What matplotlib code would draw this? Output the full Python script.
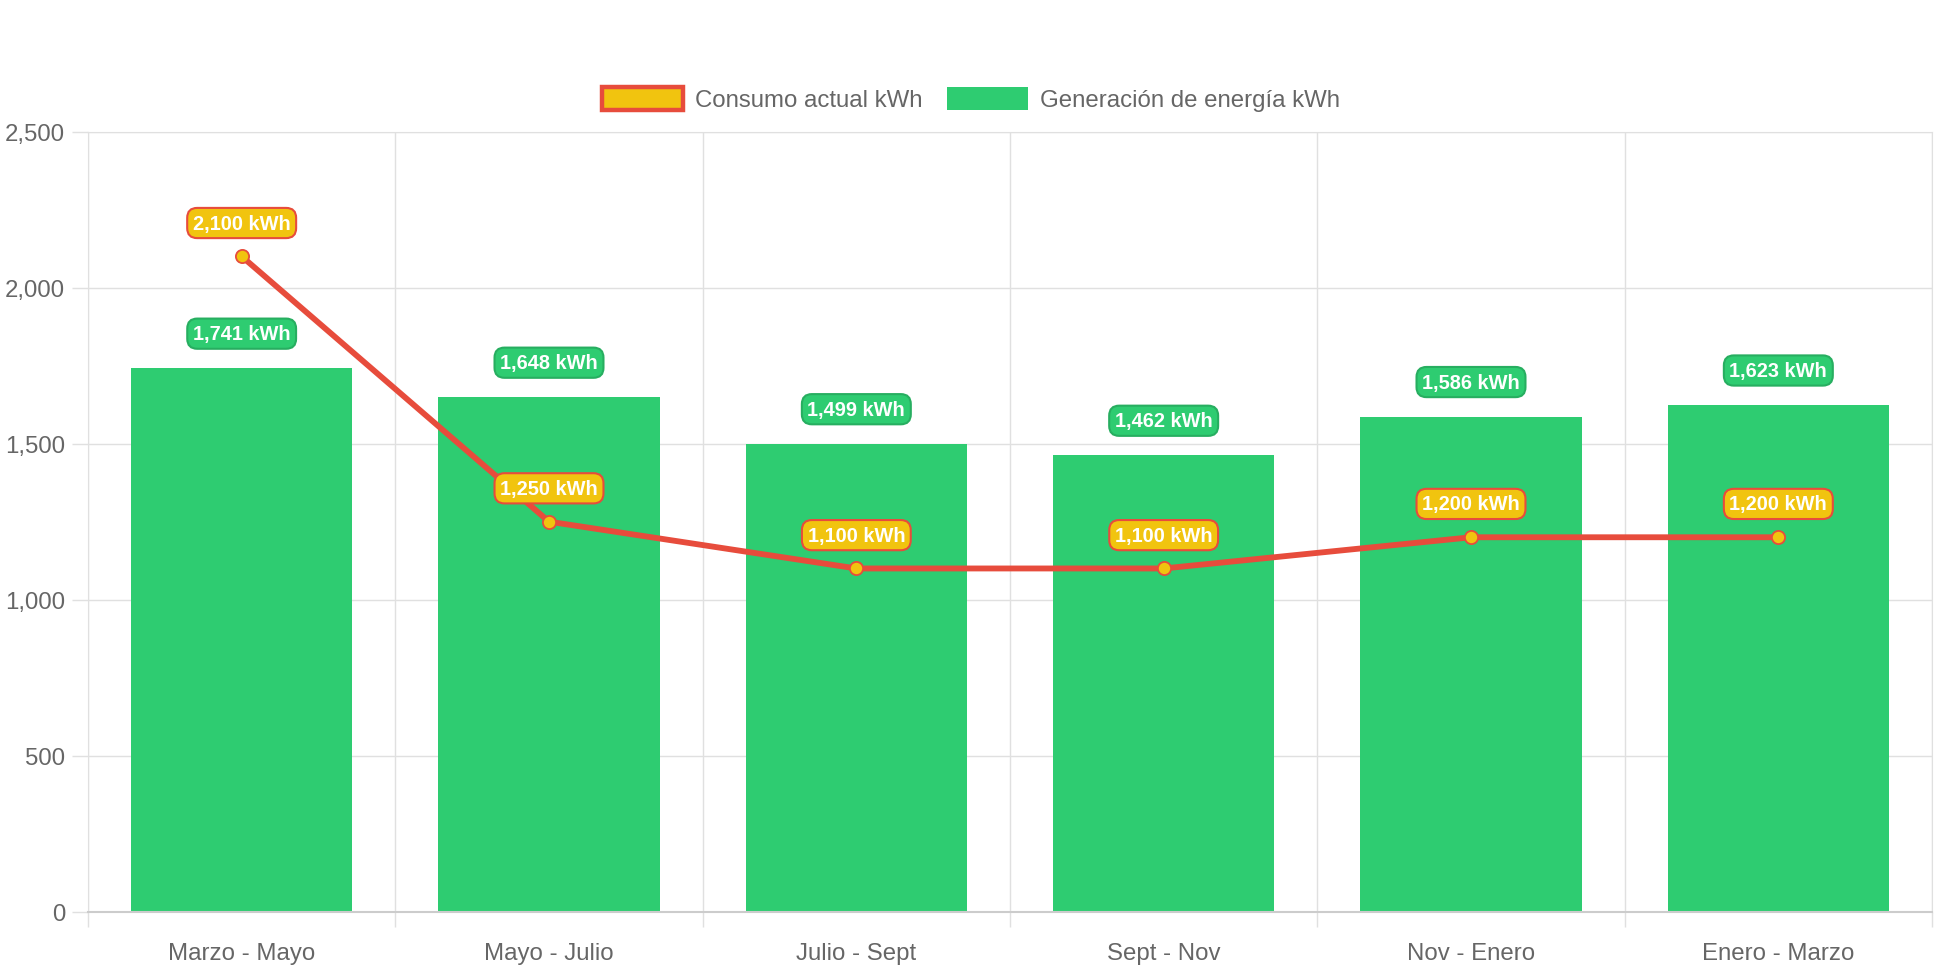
import numpy as np
import matplotlib
matplotlib.use("Agg")
import matplotlib.pyplot as plt
from matplotlib.patches import Patch

plt.rcParams['font.family'] = ['Liberation Sans', 'DejaVu Sans']

# datos
periodos = ['Marzo - Mayo', 'Mayo - Julio', 'Julio - Sept', 'Sept - Nov', 'Nov - Enero', 'Enero - Marzo']
generacion = [1741, 1648, 1499, 1462, 1586, 1623]
consumo = [2100, 1250, 1100, 1100, 1200, 1200]
y_ticks = [0, 500, 1000, 1500, 2000, 2500]

verde = '#2ecc71'
verde_borde = '#27ae60'
rojo = '#e74c3c'
amarillo = '#f1c40f'
gris_txt = '#666666'
gris_grid = '#e0e0e0'

W, H = 1942, 970
fig = plt.figure(figsize=(W / 100, H / 100), dpi=100)
ax = fig.add_axes([88 / W, 1 - 912.8 / H, (1932 - 88) / W, (912.8 - 132.5) / H])

x = np.arange(len(periodos))
ax.bar(x, generacion, width=0.72, color=verde, zorder=2)
ax.plot(x, consumo, color=rojo, lw=4.2, marker='o', ms=9.5,
        mfc=amarillo, mec=rojo, mew=1.3, zorder=3)

# etiquetas de valores
for xi, v in zip(x, generacion):
    ax.annotate(f'{v:,} kWh', (xi, v), xytext=(0, 25), textcoords='offset points',
                ha='center', va='center', fontsize=14.4, fontweight='bold', color='white',
                bbox=dict(boxstyle='round,pad=0.28,rounding_size=0.5', fc=verde, ec=verde_borde, lw=1.5),
                zorder=5)
for xi, v in zip(x, consumo):
    ax.annotate(f'{v:,} kWh', (xi, v), xytext=(0, 24), textcoords='offset points',
                ha='center', va='center', fontsize=14.4, fontweight='bold', color='white',
                bbox=dict(boxstyle='round,pad=0.28,rounding_size=0.5', fc=amarillo, ec=rojo, lw=1.5),
                zorder=6)

# ejes
ax.set_xlim(-0.5, len(periodos) - 0.5)
ax.set_ylim(0, 2500)
ax.set_yticks(y_ticks)
ax.set_yticklabels([f'{t:,}' for t in y_ticks])
ax.set_xticks(x)
ax.set_xticklabels(periodos)
ax.set_xticks(np.arange(-0.5, len(periodos), 1), minor=True)

ax.tick_params(axis='x', which='major', length=0, pad=22, labelsize=17.3, labelcolor=gris_txt)
ax.tick_params(axis='x', which='minor', length=11, width=1, color=gris_grid)
ax.tick_params(axis='y', length=11.5, width=1, color=gris_grid, pad=5, labelsize=17.3, labelcolor=gris_txt)

ax.grid(axis='y', color=gris_grid, lw=1, zorder=0)
ax.grid(axis='x', which='minor', color=gris_grid, lw=1, zorder=0)
ax.set_axisbelow(True)

for s in ['left', 'right', 'top']:
    ax.spines[s].set_color(gris_grid)
ax.spines['bottom'].set_color('#cccccc')
ax.spines['bottom'].set_linewidth(1.5)

# leyenda
handles = [Patch(fc=amarillo, ec=rojo, lw=3.2, label='Consumo actual kWh'),
           Patch(fc=verde, ec='none', label='Generación de energía kWh')]
fig.legend(handles=handles, loc='center', bbox_to_anchor=(0.5, 1 - 100 / H), ncol=2,
           frameon=False, fontsize=17.3, labelcolor=gris_txt, handlelength=3.4,
           handleheight=1.1, handletextpad=0.5, columnspacing=1.0)

fig.savefig('out.png', dpi=100)
